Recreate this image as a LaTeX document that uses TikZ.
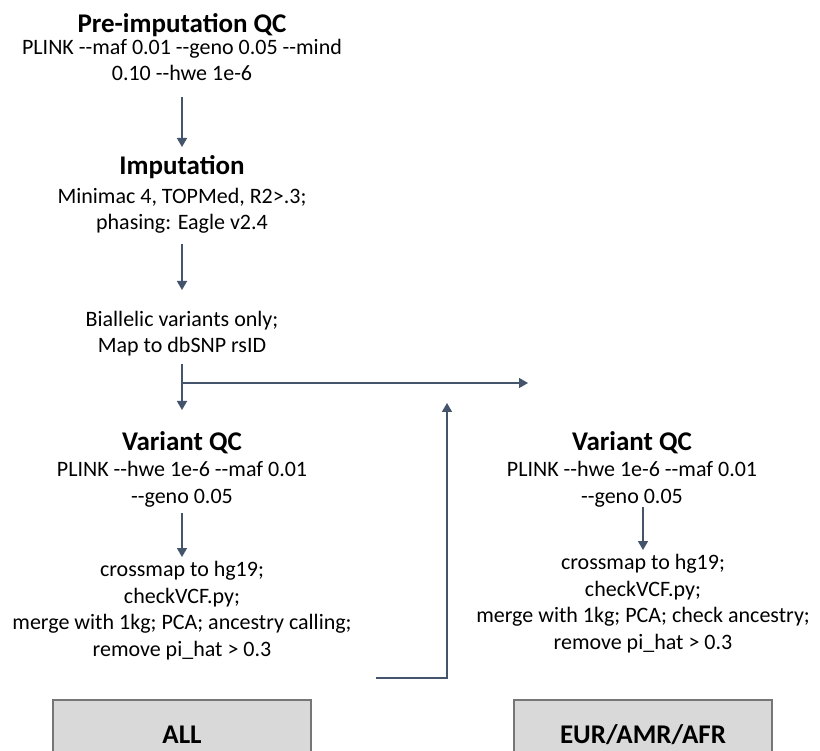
\documentclass[tikz,border=0pt]{standalone}
\usepackage{fontspec}
\setmainfont{Carlito}[Ligatures=TeXOff]
\usetikzlibrary{arrows.meta}
\definecolor{arrcol}{HTML}{44546A}
\definecolor{boxfill}{HTML}{D9D9D9}
\definecolor{boxline}{HTML}{767676}
\tikzset{
  title/.style={font=\fontsize{27}{30}\selectfont\bfseries, anchor=base, inner sep=0pt},
  body/.style={font=\fontsize{22}{26.4}\selectfont, align=center, anchor=base, inner sep=0pt},
  arr/.style={draw=arrcol, line width=1.6pt, -{Triangle[width=10pt,length=9pt]}},
  groupbox/.style={draw=boxline, line width=1.4pt, fill=boxfill},
  boxlabel/.style={font=\fontsize{27}{30}\selectfont\bfseries, anchor=base, inner sep=0pt}
}
\begin{document}
\begin{tikzpicture}[x=1pt,y=-1pt]
\clip (0,0) rectangle (820,751);
\fill[white] (0,0) rectangle (820,751);

% left column (body nodes are placed at the baseline of their last line)
\node[title] (preqc) at (182,33) {Pre-imputation QC};
\node[body] (preqct) at (182,81) {PLINK --maf 0.01 --geno 0.05 --mind\\0.10 --hwe 1e-6};
\node[title] (imp) at (182,175) {Imputation};
\node[body] (impt) at (182,230) {Minimac 4, TOPMed, R2>.3;\\phasing: Eagle v2.4};
\node[body] (bial) at (182,352.5) {Biallelic variants only;\\Map to dbSNP rsID};
\node[title] (vqcl) at (182,450) {Variant QC};
\node[body] (vqclt) at (182,503) {PLINK --hwe 1e-6 --maf 0.01\\--geno 0.05};
\node[body] (crossl) at (182,656) {crossmap to hg19;\\checkVCF.py;\\merge with 1kg; PCA; ancestry calling;\\remove pi\_hat > 0.3};

% right column
\node[title] (vqcr) at (632,450) {Variant QC};
\node[body] (vqcrt) at (632,503) {PLINK --hwe 1e-6 --maf 0.01\\--geno 0.05};
\node[body] (crossr) at (643,649) {crossmap to hg19;\\checkVCF.py;\\merge with 1kg; PCA; check ancestry;\\remove pi\_hat > 0.3};

% bottom boxes
\draw[groupbox] (53,700) rectangle (311,770);
\draw[groupbox] (514,700) rectangle (772,770);
\node[boxlabel] (all) at (182,743) {ALL};
\node[boxlabel] (eur) at (643,743) {EUR/AMR/AFR};

% connector end points
\coordinate (a1s) at (182,97);
\coordinate (a1e) at (182,147);
\coordinate (a2s) at (182,244);
\coordinate (a2e) at (182,290);
\coordinate (a3s) at (182,364);
\coordinate (a3e) at (182,410);
\coordinate (brs) at (183,383);
\coordinate (bre) at (528,383);
\coordinate (a4s) at (182,513);
\coordinate (a4e) at (182,557);
\coordinate (a5s) at (643,507);
\coordinate (a5e) at (643,550);
\coordinate (lbs) at (376,678);
\coordinate (lbc) at (447,678);
\coordinate (lbe) at (447,403);

\draw[arr] (a1s) -- (a1e);
\draw[arr] (a2s) -- (a2e);
\draw[arr] (a3s) -- (a3e);
\draw[arr] (brs) -- (bre);
\draw[arr] (a4s) -- (a4e);
\draw[arr] (a5s) -- (a5e);
\draw[arr] (lbs) -- (lbc) -- (lbe);
\end{tikzpicture}
\end{document}
